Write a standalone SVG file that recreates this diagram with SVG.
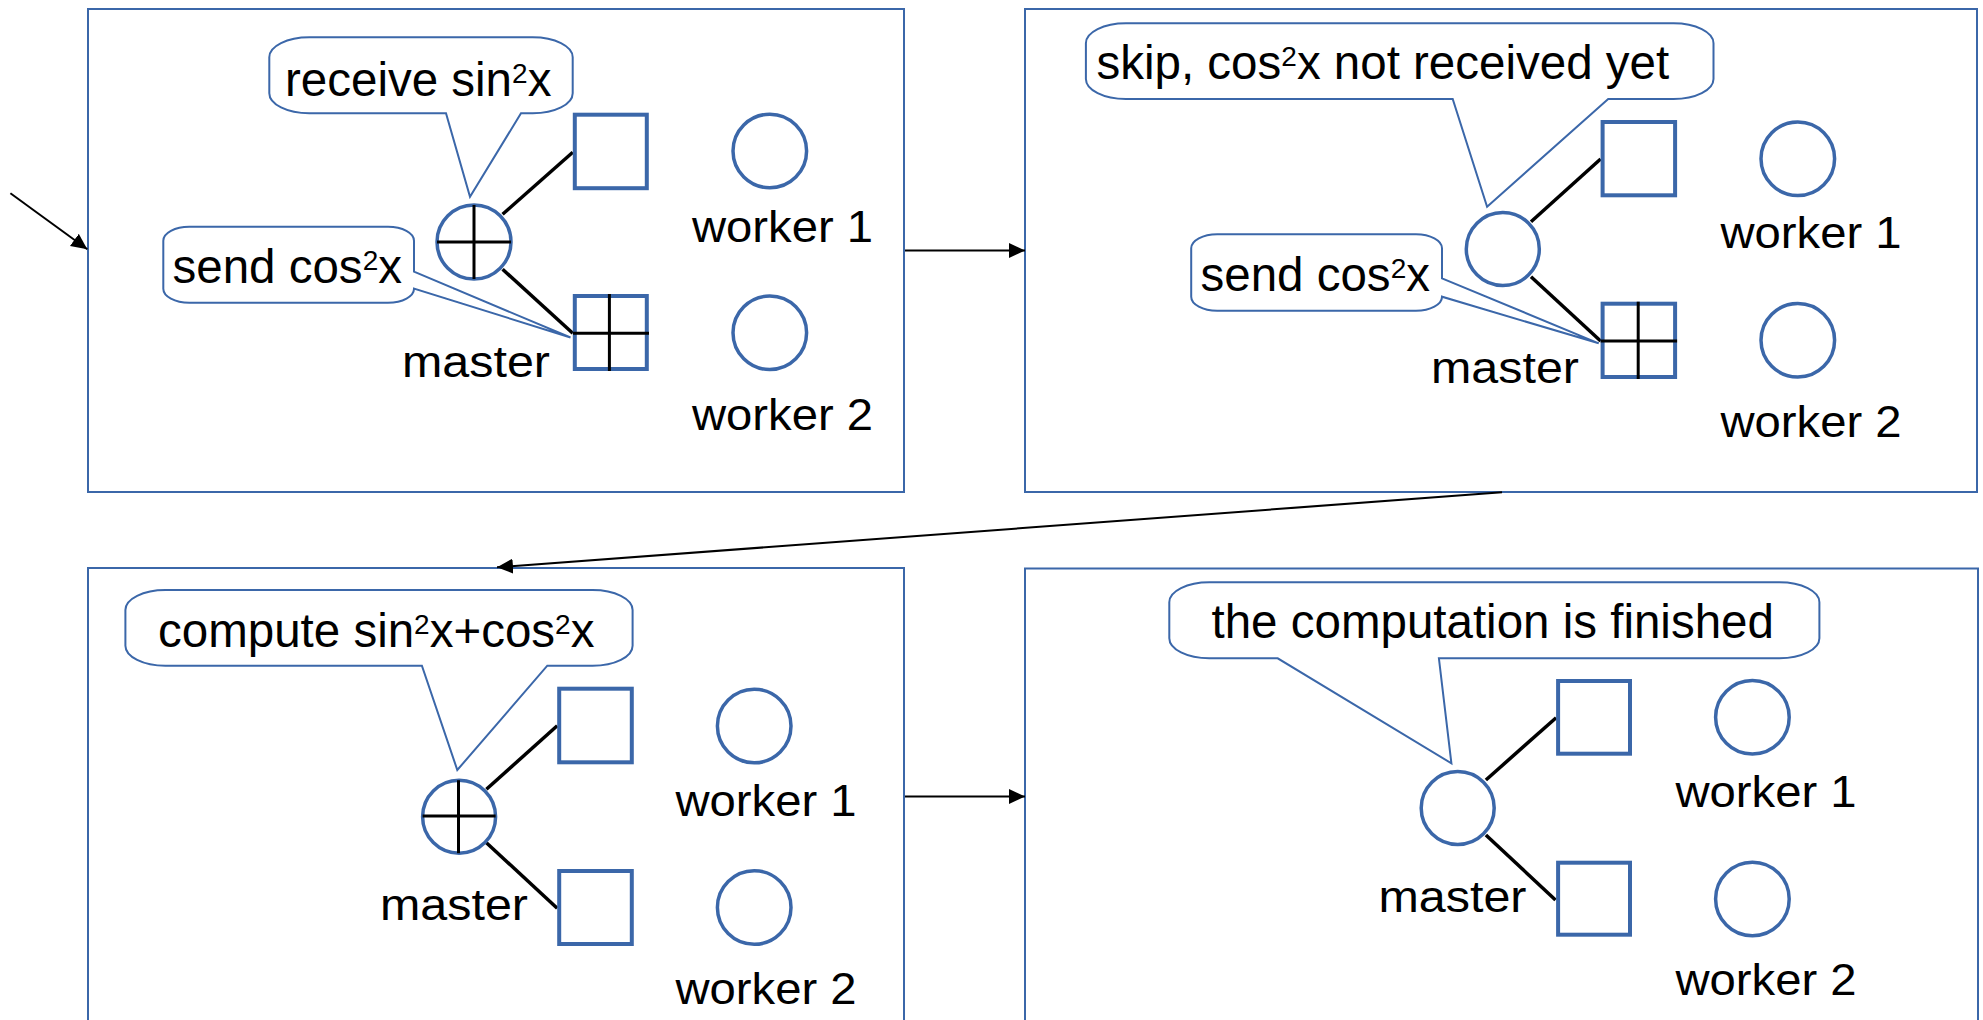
<svg xmlns="http://www.w3.org/2000/svg" width="1983" height="1020" viewBox="0 0 1983 1020">
  <defs>
    <style>
      .frame { fill: none; stroke: #3B67A9; stroke-width: 2; }
      .callout { fill: #FFFFFF; stroke: #3B67A9; stroke-width: 2; }
      .box { fill: #FFFFFF; stroke: #3B67A9; stroke-width: 4; }
      .ring { fill: #FFFFFF; stroke: #3B67A9; stroke-width: 3.5; }
      .cross { stroke: #000000; stroke-width: 3; fill: none; }
      .edge { stroke: #000000; stroke-width: 3.5; fill: none; }
      .flow { stroke: #000000; stroke-width: 2; fill: none; marker-end: url(#head); }
      .say { font-family: "Liberation Sans", Arial, sans-serif; font-size: 47.5px; fill: #000000; }
      .lbl { font-family: "Liberation Sans", Arial, sans-serif; font-size: 44px; fill: #000000; }
      .sup { font-size: 28px; }
    </style>
    <marker id="head" markerUnits="userSpaceOnUse" markerWidth="17" markerHeight="16" refX="16" refY="7.5" orient="auto">
      <path d="M0,0 L16,7.5 L0,15 Z" fill="#000000"/>
    </marker>
  </defs>

  <!-- step frames -->
  <g id="frames">
    <rect id="step1" class="frame" x="88" y="9" width="816" height="483"/>
    <rect id="step2" class="frame" x="1025" y="9" width="952" height="483"/>
    <rect id="step3" class="frame" x="88" y="568" width="816" height="470"/>
    <rect id="step4" class="frame" x="1025" y="568.5" width="953" height="470"/>
  </g>

  <!-- arrows between the steps -->
  <g id="connectors">
    <line class="flow" x1="10.4" y1="193.3" x2="87.3" y2="249.3"/>
    <line class="flow" x1="905" y1="250.5" x2="1025" y2="250.5"/>
    <line class="flow" x1="1502" y1="492.3" x2="497" y2="567.3"/>
    <line class="flow" x1="905" y1="796.5" x2="1025" y2="796.5"/>
    <!-- tree edges -->
    <line class="edge" x1="572.8" y1="152.3" x2="502.6" y2="214.3"/>
    <line class="edge" x1="502.6" y1="269.3" x2="572.8" y2="333.3"/>
    <line class="edge" x1="1600.6" y1="159" x2="1531" y2="221.7"/>
    <line class="edge" x1="1531" y1="276.7" x2="1600.6" y2="341"/>
    <line class="edge" x1="557.2" y1="725.7" x2="486.4" y2="789.3"/>
    <line class="edge" x1="486.4" y1="842.7" x2="557.2" y2="908.3"/>
    <line class="edge" x1="1556.1" y1="717.7" x2="1485.9" y2="780"/>
    <line class="edge" x1="1485.9" y1="835" x2="1555.5" y2="900"/>
  </g>

  <!-- step 1 -->
  <g id="s1-master">
    <circle class="ring" cx="474" cy="242" r="37"/>
    <line class="cross" x1="437" y1="242" x2="511" y2="242"/>
    <line class="cross" x1="474" y1="205" x2="474" y2="279"/>
    <text class="lbl" x="402" y="376.7" textLength="148" lengthAdjust="spacingAndGlyphs">master</text>
  </g>
  <g id="s1-box1"><rect class="box" x="574.8" y="114.7" width="72" height="73.5"/></g>
  <g id="s1-box2">
    <rect class="box" x="574.8" y="296" width="72" height="73"/>
    <line class="cross" x1="609.4" y1="294" x2="609.4" y2="371"/>
    <line class="cross" x1="573" y1="333.3" x2="649" y2="333.3"/>
  </g>
  <g id="s1-worker1">
    <circle class="ring" cx="769.8" cy="151" r="36.8"/>
    <text class="lbl" x="692" y="241.7" textLength="181" lengthAdjust="spacingAndGlyphs">worker 1</text>
  </g>
  <g id="s1-worker2">
    <circle class="ring" cx="769.8" cy="332.8" r="36.8"/>
    <text class="lbl" x="692" y="430" textLength="181" lengthAdjust="spacingAndGlyphs">worker 2</text>
  </g>
  <g id="s1-note-receive">
    <path class="callout" d="M309.3,37.3 H532.7 A40 20 0 0 1 572.7,57.3 V93.3 A40 20 0 0 1 532.7,113.3 H521 L470,196.7 L446,113.3 H309.3 A40 20 0 0 1 269.3,93.3 V57.3 A40 20 0 0 1 309.3,37.3 Z"/>
    <text class="say" x="285" y="95.5">receive sin<tspan class="sup" dy="-13">2</tspan><tspan dy="13">x</tspan></text>
  </g>
  <g id="s1-note-send">
    <path class="callout" d="M189.3,226.7 H388 A26 14 0 0 1 414,240.7 V271.7 L570.5,337.5 L414,288.5 A26 14 0 0 1 388,302.7 H189.3 A26 14 0 0 1 163.3,288.7 V240.7 A26 14 0 0 1 189.3,226.7 Z"/>
    <text class="say" x="172.5" y="283">send cos<tspan class="sup" dy="-13">2</tspan><tspan dy="13">x</tspan></text>
  </g>

  <!-- step 2 -->
  <g id="s2-master">
    <circle class="ring" cx="1502.8" cy="249" r="36.5"/>
    <text class="lbl" x="1431" y="383.3" textLength="148" lengthAdjust="spacingAndGlyphs">master</text>
  </g>
  <g id="s2-box1"><rect class="box" x="1602.6" y="122" width="72.5" height="73.3"/></g>
  <g id="s2-box2">
    <rect class="box" x="1602.6" y="303.7" width="72.5" height="73.3"/>
    <line class="cross" x1="1638.2" y1="301.7" x2="1638.2" y2="379"/>
    <line class="cross" x1="1600.6" y1="341" x2="1677.1" y2="341"/>
  </g>
  <g id="s2-worker1">
    <circle class="ring" cx="1797.8" cy="158.7" r="36.8"/>
    <text class="lbl" x="1720.5" y="248.3" textLength="181" lengthAdjust="spacingAndGlyphs">worker 1</text>
  </g>
  <g id="s2-worker2">
    <circle class="ring" cx="1797.8" cy="340.3" r="36.8"/>
    <text class="lbl" x="1720.5" y="436.7" textLength="181" lengthAdjust="spacingAndGlyphs">worker 2</text>
  </g>
  <g id="s2-note-skip">
    <path class="callout" d="M1125.9,23.3 H1673.5 A40 20 0 0 1 1713.5,43.3 V79 A40 20 0 0 1 1673.5,99 H1608.2 L1487.1,206.7 L1452.7,99 H1125.9 A40 20 0 0 1 1085.9,79 V43.3 A40 20 0 0 1 1125.9,23.3 Z"/>
    <text class="say" x="1096.5" y="79.3">skip, cos<tspan class="sup" dy="-13">2</tspan><tspan dy="13">x not received yet</tspan></text>
  </g>
  <g id="s2-note-send">
    <path class="callout" d="M1217.2,234.3 H1416 A26 14 0 0 1 1442,248.3 V278.3 L1598.7,343.3 L1442,296.7 A26 14 0 0 1 1416,310.7 H1217.2 A26 14 0 0 1 1191.2,296.7 V248.3 A26 14 0 0 1 1217.2,234.3 Z"/>
    <text class="say" x="1200.5" y="290.7">send cos<tspan class="sup" dy="-13">2</tspan><tspan dy="13">x</tspan></text>
  </g>

  <!-- step 3 -->
  <g id="s3-master">
    <circle class="ring" cx="459.1" cy="816.7" r="36.5"/>
    <line class="cross" x1="422.6" y1="816" x2="495.6" y2="816"/>
    <line class="cross" x1="458.5" y1="780.2" x2="458.5" y2="853.2"/>
    <text class="lbl" x="380" y="920" textLength="148" lengthAdjust="spacingAndGlyphs">master</text>
  </g>
  <g id="s3-box1"><rect class="box" x="559.2" y="688.7" width="72.6" height="73.6"/></g>
  <g id="s3-box2"><rect class="box" x="559.2" y="871" width="72.6" height="73"/></g>
  <g id="s3-worker1">
    <circle class="ring" cx="754.2" cy="726" r="36.8"/>
    <text class="lbl" x="675.5" y="815.7" textLength="181" lengthAdjust="spacingAndGlyphs">worker 1</text>
  </g>
  <g id="s3-worker2">
    <circle class="ring" cx="754.2" cy="907.5" r="36.8"/>
    <text class="lbl" x="675.5" y="1004" textLength="181" lengthAdjust="spacingAndGlyphs">worker 2</text>
  </g>
  <g id="s3-note-compute">
    <path class="callout" d="M165.4,590 H592.6 A40 20 0 0 1 632.6,610 V645.7 A40 20 0 0 1 592.6,665.7 H547.3 L457.3,770 L421.9,665.7 H165.4 A40 20 0 0 1 125.4,645.7 V610 A40 20 0 0 1 165.4,590 Z"/>
    <text class="say" x="158" y="646.7">compute sin<tspan class="sup" dy="-13">2</tspan><tspan dy="13">x+cos</tspan><tspan class="sup" dy="-13">2</tspan><tspan dy="13">x</tspan></text>
  </g>

  <!-- step 4 -->
  <g id="s4-master">
    <circle class="ring" cx="1457.7" cy="808" r="36.5"/>
    <text class="lbl" x="1378.5" y="911.7" textLength="148" lengthAdjust="spacingAndGlyphs">master</text>
  </g>
  <g id="s4-box1"><rect class="box" x="1558.1" y="681" width="71.9" height="72.7"/></g>
  <g id="s4-box2"><rect class="box" x="1558.1" y="862.7" width="71.9" height="72"/></g>
  <g id="s4-worker1">
    <circle class="ring" cx="1752.4" cy="717.3" r="36.8"/>
    <text class="lbl" x="1675.5" y="806.7" textLength="181" lengthAdjust="spacingAndGlyphs">worker 1</text>
  </g>
  <g id="s4-worker2">
    <circle class="ring" cx="1752.4" cy="899" r="36.8"/>
    <text class="lbl" x="1675.5" y="995" textLength="181" lengthAdjust="spacingAndGlyphs">worker 2</text>
  </g>
  <g id="s4-note-finished">
    <path class="callout" d="M1209.3,582.3 H1779.4 A40 20 0 0 1 1819.4,602.3 V638.3 A40 20 0 0 1 1779.4,658.3 H1438.9 L1451.4,763.3 L1277.7,658.3 H1209.3 A40 20 0 0 1 1169.3,638.3 V602.3 A40 20 0 0 1 1209.3,582.3 Z"/>
    <text class="say" x="1211.5" y="638.3">the computation is finished</text>
  </g>
</svg>
